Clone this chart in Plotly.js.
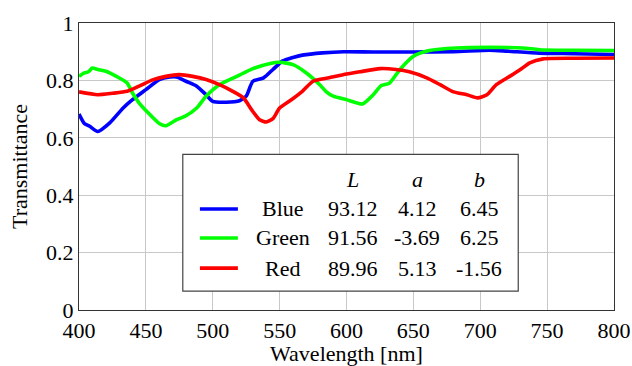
<!DOCTYPE html>
<html>
<head>
<meta charset="utf-8">
<script src="https://cdn.plot.ly/plotly-3.0.1.min.js"></script>
</head>
<body style="margin:0;background:#fff">
<div id="chart"></div>
<script>
// ---- Data ----
const blueX = [400,404,408,414,423,433,440,450,460,468,473,480,488,495,500,510,520,525,530,538,545,552,560,567,582,598,620,650,680,707,720,744,770,800];
const blueY = [0.683,0.650,0.640,0.622,0.652,0.704,0.733,0.768,0.803,0.812,0.812,0.797,0.780,0.750,0.727,0.724,0.729,0.745,0.797,0.809,0.838,0.867,0.880,0.888,0.896,0.900,0.899,0.899,0.900,0.905,0.902,0.895,0.893,0.890];

const greenX = [400,404,407,410,414,420,428,436,440,445,453,460,465,473,480,488,495,505,518,530,543,550,560,570,580,585,590,600,612,620,626,632,640,650,662,682,707,732,744,770,800];
const greenY = [0.814,0.826,0.830,0.843,0.838,0.832,0.814,0.791,0.756,0.721,0.681,0.650,0.642,0.663,0.677,0.704,0.745,0.785,0.814,0.841,0.859,0.863,0.855,0.826,0.785,0.760,0.745,0.733,0.718,0.750,0.782,0.790,0.838,0.884,0.904,0.913,0.915,0.913,0.907,0.905,0.904];

const redX = [400,414,425,436,445,455,465,475,485,495,505,515,523,529,535,540,545,550,558,567,575,587,600,610,625,637,647,660,670,680,690,698,705,712,722,730,737,747,770,800];
const redY = [0.760,0.750,0.755,0.762,0.780,0.802,0.814,0.820,0.814,0.803,0.785,0.762,0.739,0.698,0.663,0.655,0.667,0.704,0.730,0.762,0.797,0.809,0.822,0.830,0.841,0.838,0.830,0.809,0.785,0.760,0.750,0.739,0.750,0.785,0.814,0.838,0.861,0.875,0.877,0.878];

const seriesNames = ['Blue','Green','Red'];
const seriesColors = ['#0000ff','#00ff00','#ff0000'];
const colHeaders = ['L','a','b'];
const valL = ['93.12','91.56','89.96'];
const valA = ['4.12','-3.69','5.13'];
const valB = ['6.45','6.25','-1.56'];

const xTicks = [400,450,500,550,600,650,700,750,800];
const yTicks = [0,0.2,0.4,0.6,0.8,1];
const yTickText = ['0','0.2','0.4','0.6','0.8','1'];

// ---- Traces ----
const xs = [blueX, greenX, redX];
const ys = [blueY, greenY, redY];
const traces = xs.map((x, i) => ({
  x: x, y: ys[i], type: 'scatter', mode: 'lines', name: seriesNames[i],
  line: {color: seriesColors[i], width: 3.6, shape: 'spline', smoothing: 0.6},
  showlegend: false, hoverinfo: 'skip'
}));

// ---- Table-style legend ----
const FONT = 'Liberation Serif';
const fs = 22;
const tf = {family: FONT, size: fs, color: '#000000'};
const colX = [0.381, 0.512, 0.632, 0.748];
const headerY = 0.456;
const rowY = [0.352, 0.251, 0.146];
const shapes = [{
  type: 'rect', xref: 'paper', yref: 'paper', x0: 0.194, x1: 0.821, y0: 0.066, y1: 0.5425,
  fillcolor: '#ffffff', line: {color: '#444', width: 1.2}, layer: 'above'
}];
const annotations = [];
colHeaders.forEach((h, j) => annotations.push({
  xref: 'paper', yref: 'paper', x: colX[j+1], y: headerY, text: '<i>' + h + '</i>',
  showarrow: false, xanchor: 'center', yanchor: 'middle', font: tf
}));
seriesNames.forEach((n, i) => {
  shapes.push({type: 'line', xref: 'paper', yref: 'paper', x0: 0.226, x1: 0.297, y0: rowY[i], y1: rowY[i],
    line: {color: seriesColors[i], width: 3.6}, layer: 'above'});
  [n, valL[i], valA[i], valB[i]].forEach((t, j) => annotations.push({
    xref: 'paper', yref: 'paper', x: colX[j], y: rowY[i], text: t,
    showarrow: false, xanchor: 'center', yanchor: 'middle', font: tf
  }));
});

const layout = {
  width: 632, height: 366,
  margin: {l: 79, r: 18, t: 23, b: 56, pad: 0},
  paper_bgcolor: '#ffffff', plot_bgcolor: '#ffffff',
  font: tf,
  showlegend: false,
  xaxis: {
    range: [400, 800], tickvals: xTicks, ticktext: xTicks.map(String),
    showgrid: true, gridcolor: '#c8c8c8', gridwidth: 1,
    showline: true, linecolor: '#333', linewidth: 1.2, mirror: true,
    ticks: '', zeroline: false, tickfont: tf,
    title: {text: 'Wavelength [nm]', font: tf, standoff: 6}
  },
  yaxis: {
    range: [0, 1], tickvals: yTicks, ticktext: yTickText,
    showgrid: true, gridcolor: '#c8c8c8', gridwidth: 1,
    showline: true, linecolor: '#333', linewidth: 1.2, mirror: true,
    ticks: '', zeroline: false, tickfont: tf,
    title: {text: 'Transmittance', font: tf, standoff: 12}
  },
  shapes: shapes, annotations: annotations
};

Plotly.newPlot('chart', traces, layout, {staticPlot: true}).then(gd => {
  gd.querySelectorAll('text').forEach(t => {
    t.style.fontFamily = "'Liberation Serif'";
    t.setAttribute('font-family', 'Liberation Serif');
  });
});
</script>
</body>
</html>
